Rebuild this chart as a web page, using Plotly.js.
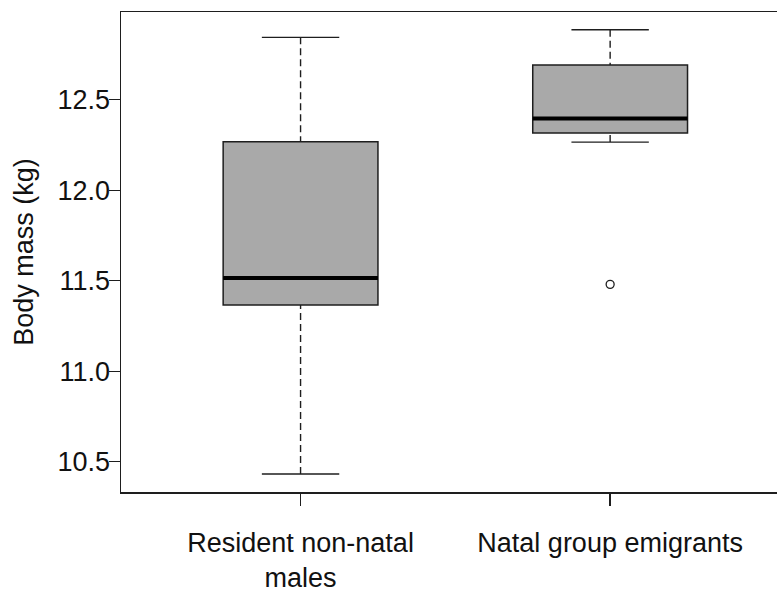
<!DOCTYPE html>
<html>
<head>
<meta charset="utf-8">
<script src="https://cdn.plot.ly/plotly-3.0.1.min.js"></script>
<style>
html, body { margin: 0; padding: 0; background: #fff; overflow: hidden; }
#chart { width: 777px; height: 594px; }
</style>
</head>
<body>
<div id="chart"></div>
<script>
// ---- data ----
const categories = ["Resident non-natal<br>males", "Natal group emigrants"];
const positions = [1, 2];
const lowerWhisker = [10.432, 12.266];
const q1Values = [11.366, 12.317];
const medianValues = [11.515, 12.397];
const q3Values = [12.268, 12.692];
const upperWhisker = [12.845, 12.887];
const outlierGroup = [2];
const outlierValues = [11.48];
const yTickVals = [10.5, 11.0, 11.5, 12.0, 12.5];

// ---- styling ----
const BOX_WIDTH = 0.5;
const CAP_HALF = BOX_WIDTH / 4;
const MED_HALF = BOX_WIDTH / 2;
const LINE_COL = "#1e1e1e";
const FONT = "Liberation Sans, Arial, Helvetica, sans-serif";

const traces = [];

// boxes (body only; whiskers drawn dashed separately)
traces.push({
  type: "box",
  x: positions,
  q1: q1Values,
  median: medianValues,
  q3: q3Values,
  lowerfence: q1Values,
  upperfence: q3Values,
  width: BOX_WIDTH,
  whiskerwidth: 0,
  fillcolor: "#a9a9a9",
  line: { color: LINE_COL, width: 1.5 },
  hoverinfo: "skip",
  showlegend: false
});

// whiskers (dashed)
const wx = [], wy = [];
positions.forEach((p, i) => {
  wx.push(p, p, null, p, p, null);
  wy.push(upperWhisker[i], q3Values[i], null, lowerWhisker[i], q1Values[i], null);
});
traces.push({
  type: "scatter", mode: "lines", x: wx, y: wy,
  line: { color: LINE_COL, width: 1.4, dash: "7px,4px" },
  hoverinfo: "skip", showlegend: false
});

// caps
const cx = [], cy = [];
positions.forEach((p, i) => {
  cx.push(p - CAP_HALF, p + CAP_HALF, null, p - CAP_HALF, p + CAP_HALF, null);
  cy.push(upperWhisker[i], upperWhisker[i], null, lowerWhisker[i], lowerWhisker[i], null);
});
traces.push({
  type: "scatter", mode: "lines", x: cx, y: cy,
  line: { color: LINE_COL, width: 1.4 },
  hoverinfo: "skip", showlegend: false
});

// thick medians
const mx = [], my = [];
positions.forEach((p, i) => {
  mx.push(p - MED_HALF, p + MED_HALF, null);
  my.push(medianValues[i], medianValues[i], null);
});
traces.push({
  type: "scatter", mode: "lines", x: mx, y: my,
  line: { color: "#000", width: 4 },
  hoverinfo: "skip", showlegend: false
});

// outliers
traces.push({
  type: "scatter", mode: "markers",
  x: outlierGroup, y: outlierValues,
  marker: { symbol: "circle-open", size: 8, color: LINE_COL, line: { width: 1.3, color: LINE_COL } },
  hoverinfo: "skip", showlegend: false
});

const layout = {
  width: 777, height: 594,
  margin: { l: 121, r: 0, t: 12, b: 102 },
  paper_bgcolor: "#fff", plot_bgcolor: "#fff",
  font: { family: FONT, size: 27, color: "#111" },
  showlegend: false,
  xaxis: {
    range: [0.42, 2.539],
    tickmode: "array", tickvals: positions, ticktext: categories,
    ticks: "outside", ticklen: 12, tickwidth: 1.3, tickcolor: LINE_COL,
    showline: true, linecolor: LINE_COL, linewidth: 1.5, mirror: true,
    showgrid: false, zeroline: false,
    tickfont: { family: FONT, size: 27, color: "#111" },
    ticklabelstandoff: 14
  },
  yaxis: {
    range: [10.3325, 12.985],
    tickmode: "array", tickvals: yTickVals, tickformat: ".1f",
    ticks: "outside", ticklen: 11, tickwidth: 1.3, tickcolor: LINE_COL,
    showline: true, linecolor: LINE_COL, linewidth: 1.5, mirror: false,
    showgrid: false, zeroline: false,
    tickfont: { family: FONT, size: 27, color: "#111" },
    ticklabelstandoff: -7,
    title: { text: "Body mass (kg)", font: { family: FONT, size: 27, color: "#111" }, standoff: 16 }
  }
};

Plotly.newPlot("chart", traces, layout, { displayModeBar: false, staticPlot: true });
</script>
</body>
</html>
